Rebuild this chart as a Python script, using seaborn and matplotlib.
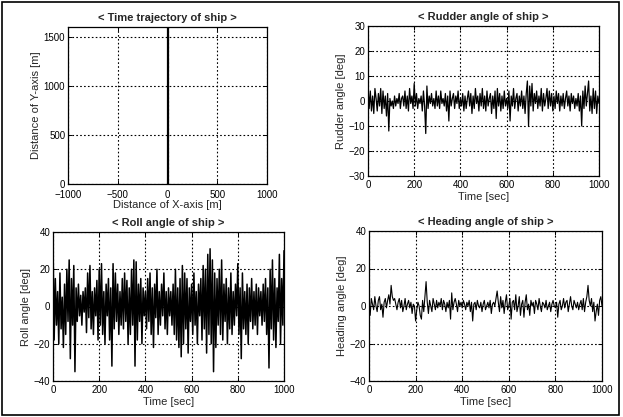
import numpy as np
import pandas as pd
import matplotlib
matplotlib.use("Agg")
import matplotlib.pyplot as plt
import seaborn as sns
from matplotlib.patches import Rectangle

# ---------------- data ----------------
traj_x = [0, 0]
traj_y = [0, 1600]

rudder = [6, -3, 4, -4, 2, -5, 5, 1, -4, 3, -2, 5, -5, 4, -3, 2, -6, 3, -12, 1, -2,
          0, -3, 2, -2, 1, -1, 3, -3, 1, 2, -2, 4, -3, 2, -4, 5, -1, 2, -3, 7,
          -2, 3, -3, 1, -1, 2, -4, 4, -2, -13, 6, -3, 2, -1, 3, -2, 1, -3, 4, -2,
          2, -3, 4, -1, 1, -2, 3, -4, 2, -8, 4, -2, 1, 3, -3, 2, -1, 4, -3, 1,
          -2, 3, -4, 2, -3, 1, 4, -2, 3, -5, 2, -3, 5, -1, 2, -4, 3, -2, 5, -3,
          2, -4, 4, -2, 1, 3, -5, 2, -3, 4, -7, 5, -2, 3, -4, 2, -3, 4, -2, 1,
          -3, 4, -8, 2, -2, 5, -3, 1, 3, -4, 2, -2, 4, -3, 2, -5, 3, 8, -10, 6,
          -2, 7, -4, 3, -1, 4, -3, 2, -2, 5, -4, 3, -2, 1, 5, -3, 4, -2, 3, -4,
          2, -3, 4, -1, 3, -4, 2, -2, 3, -3, 1, 4, -2, 2, -4, 3, -1, 2, -3, 1,
          -2, 3, -4, 2, -10, 4, -3, 6, -2, 3, 8, -4, 2, -5, 5, -3, 4, -5, 2, -1]

roll = [35, -18, 15, -10, 8, -20, 18, -12, 5, -22, 12, -15, 20, -8, 25, -28, 15, -10, 22, -35, 10,
        -8, 12, -5, 6, -10, 8, -3, 10, -14, 18, -6, 22, -12, 8, -15, 10, -5, 14, -18, 20,
        -10, 23, -15, 8, -20, 12, -5, 15, -18, 10, -32, 23, -12, 18, -8, 12, -15, 8, -10, 15,
        -12, 18, -8, 14, -20, 10, -15, 20, -10, 25, -32, 24, -18, 12, -8, 15, -20, 10, -5, 8,
        -12, 15, -8, 18, -15, 10, -22, 12, -6, 20, -15, 8, -10, 12, -5, 18, -12, 8, -15, 10,
        -5, 8, -10, 12, -15, 20, -18, 10, -22, 15, -27, 22, -20, 18, -12, 15, -25, 10, -8, 12,
        -15, 18, -10, 8, -20, 12, -5, 15, -18, 22, -12, 20, -25, 28, -15, 31, -20, 25, -35, 18,
        -22, 15, -10, 20, -15, 25, -18, 12, -8, 15, -20, 10, -12, 18, -15, 8, -10, 12, -5, 23,
        -15, 10, -28, 18, -12, 8, -15, 12, -20, 10, -8, 15, -12, 8, -10, 12, -15, 10, -5, 8,
        -10, 12, -8, 15, -15, 10, -33, 20, -12, 25, -18, 15, -22, 10, -8, 28, -20, 15, -10, 30]

heading = [3, -5, 4, 1, -2, 5, 0, -3, 3, 5, -2, 1, -6, 2, 4, -1, 3, 6, 1, 11, 5,
           3, 4, 1, -2, 2, 4, -1, 3, -3, 0, 4, -2, 1, 3, -1, 2, -4, 1, 0, -8,
           -2, 2, 0, -5, -7, 3, -3, 5, 13, 2, -4, 3, 0, -3, 4, 1, -2, 3, -1, 2,
           0, 4, -2, 3, 1, -3, 2, -1, 3, -7, 7, -2, 2, 4, 1, -3, 3, 0, 2, -1,
           3, 1, -2, 2, 0, 3, -3, 2, -8, 1, 2, -2, 3, 0, -1, 2, -3, 1, 3, -2,
           0, 2, -1, 3, -4, 1, 2, 0, 4, 8, 2, -3, 5, -1, 3, -4, 2, 6, -2, 0,
           4, -7, 2, 3, -2, 6, -3, 0, 5, -5, 1, 3, -6, 2, 6, -2, 1, -5, 3, 0,
           2, -4, 3, 1, -2, 4, 0, -3, 2, 1, -1, 3, -2, 0, 2, -3, 1, 3, 0, -1,
           2, -6, 1, 3, -2, 0, 4, -1, 2, 3, -3, 1, 5, 0, -2, 3, 1, -1, 2, -2,
           1, 3, -2, 4, -3, 2, 5, 11, 3, 0, 4, -3, 2, -8, -3, 1, -5, 3, 5, 0]

t_end = 1000

# ---------------- style ----------------
sns.set_theme(style="white")
plt.rcParams["font.family"] = ["Liberation Sans", "DejaVu Sans"]

fig = plt.figure(figsize=(6.23, 4.17), dpi=100)

def style_axes(ax, xpad=3):
    for s in ax.spines.values():
        s.set_visible(True)
        s.set_color("black")
        s.set_linewidth(0.9)
    ax.grid(True, linestyle=(0, (1.5, 2)), color="black", linewidth=0.8)
    ax.tick_params(direction="in", length=3, width=0.7, labelsize=7,
                   colors="black", pad=2, top=True, right=True,
                   bottom=True, left=True)
    ax.tick_params(axis="x", pad=xpad)
    ax.xaxis.label.set_size(8)
    ax.yaxis.label.set_size(8)

def series_df(vals):
    t = np.linspace(0, t_end, len(vals))
    return pd.DataFrame({"t": t, "v": vals})

# Top-left: trajectory
ax1 = fig.add_axes([68/623, (417-184)/417, 199/623, 157/417])
sns.lineplot(x=traj_x, y=traj_y, ax=ax1, color="black", linewidth=1.6,
             estimator=None, sort=False)
ax1.set_xlim(-1000, 1000)
ax1.set_ylim(0, 1600)
ax1.set_xticks([-1000, -500, 0, 500, 1000])
ax1.set_yticks([0, 500, 1000, 1500])
ax1.set_title("< Time trajectory of ship >", fontsize=8, fontweight="bold", pad=4)
ax1.set_xlabel("Distance of X-axis [m]", labelpad=0)
ax1.set_ylabel("Distance of Y-axis [m]", labelpad=2)
style_axes(ax1, xpad=4)

# Top-right: rudder
ax2 = fig.add_axes([368/623, (417-176)/417, 231/623, 150/417])
d = series_df(rudder)
sns.lineplot(data=d, x="t", y="v", ax=ax2, color="black", linewidth=0.9,
             estimator=None)
ax2.set_xlim(0, 1000)
ax2.set_ylim(-30, 30)
ax2.set_xticks([0, 200, 400, 600, 800, 1000])
ax2.set_yticks([-30, -20, -10, 0, 10, 20, 30])
ax2.set_title("< Rudder angle of ship >", fontsize=8, fontweight="bold", pad=4)
ax2.set_xlabel("Time [sec]", labelpad=1)
ax2.set_ylabel("Rudder angle [deg]", labelpad=2)
style_axes(ax2)

# Bottom-left: roll
ax3 = fig.add_axes([53/623, 36/417, 231/623, 149/417])
d = series_df(roll)
sns.lineplot(data=d, x="t", y="v", ax=ax3, color="black", linewidth=1.1,
             estimator=None)
ax3.set_xlim(0, 1000)
ax3.set_ylim(-40, 40)
ax3.set_xticks([0, 200, 400, 600, 800, 1000])
ax3.set_yticks([-40, -20, 0, 20, 40])
ax3.set_title("< Roll angle of ship >", fontsize=8, fontweight="bold", pad=4)
ax3.set_xlabel("Time [sec]", labelpad=1)
ax3.set_ylabel("Roll angle [deg]", labelpad=2)
style_axes(ax3)

# Bottom-right: heading
ax4 = fig.add_axes([369/623, 36/417, 233/623, 150/417])
d = series_df(heading)
sns.lineplot(data=d, x="t", y="v", ax=ax4, color="black", linewidth=0.8,
             estimator=None)
ax4.set_xlim(0, 1000)
ax4.set_ylim(-40, 40)
ax4.set_xticks([0, 200, 400, 600, 800, 1000])
ax4.set_yticks([-40, -20, 0, 20, 40])
ax4.set_title("< Heading angle of ship >", fontsize=8, fontweight="bold", pad=4)
ax4.set_xlabel("Time [sec]", labelpad=1)
ax4.set_ylabel("Heading angle [deg]", labelpad=2)
style_axes(ax4)

# Outer frame around whole figure
fig.patches.append(Rectangle((0.004, 0.005), 0.99, 0.99, transform=fig.transFigure,
                             fill=False, edgecolor="black", linewidth=1.2))

fig.savefig("out.png", dpi=100)
